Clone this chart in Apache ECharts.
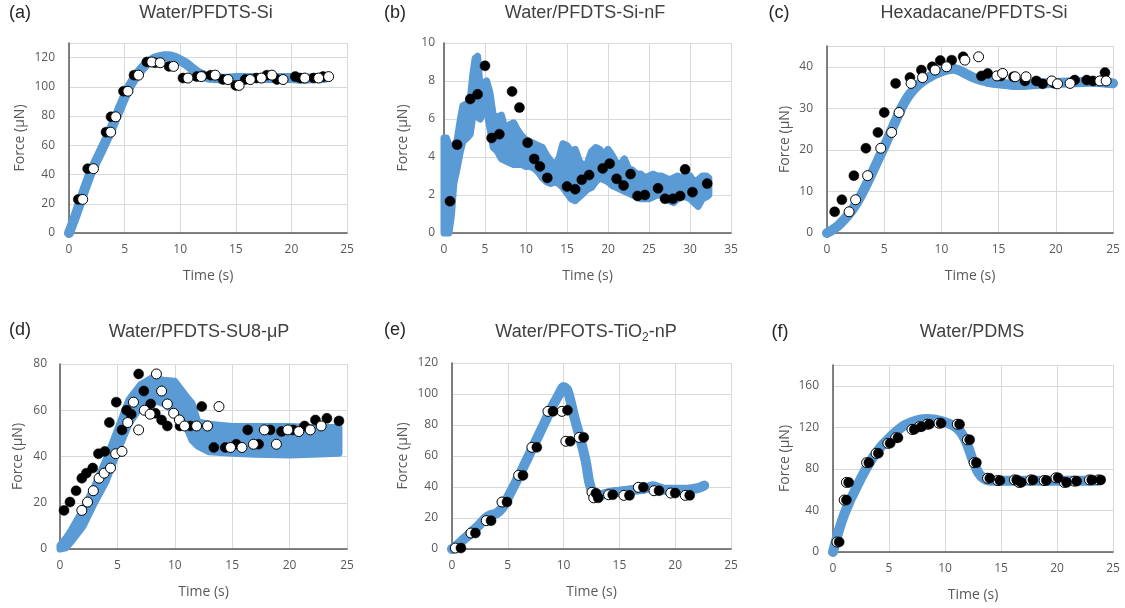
<!DOCTYPE html>
<html>
<head>
<meta charset="utf-8">
<title>Force vs time</title>
<script src="https://cdn.jsdelivr.net/npm/echarts@6/dist/echarts.min.js"></script>
<style>
html,body{margin:0;padding:0;background:#fff;}
#main{width:1125px;height:608px;}
</style>
</head>
<body>
<div id="main"></div>
<script>
// (a) Water/PFDTS-Si
var aLineT = [0,0.5,1,1.5,2,2.5,3,3.5,4,4.5,5,5.5,6,6.5,7,7.5,8,8.5,9,9.5,10,10.5,11,11.5,12,12.5,13,14,15,16,17,18,19,20,21,22,23];
var aLineF = [0,10,21,32,42,50,58,66,75,84,93,101,107,112,116,118.5,120,121,121,120,118,116,113,110,108,106.5,106,105.5,106,106,106,106,106,106,105.5,106,106];
var aBlackT = [0.84,1.68,3.33,3.78,4.9,5.85,7.0,7.75,9.0,10.25,11.5,12.0,12.75,13.85,15.0,15.85,16.85,17.8,18.7,20.35,20.8,22.0,22.85];
var aBlackF = [23,44,69,79.5,97,108,117,116.5,114,106,107,107.5,108,105,101,105,106,108,105,107,106,106,107];
var aOpenT = [1.23,2.2,3.75,4.2,5.3,6.25,7.45,8.2,9.4,10.7,11.9,13.15,14.3,15.3,16.3,17.3,18.25,19.25,21.2,22.45,23.35];
var aOpenF = [23,44,69,79.5,97,108,117,116.5,114,106,107,108,105,101,105,106,108,105,106,106,107];

// (b) Water/PFDTS-Si-nF  (noisy trace drawn as a band)
var bBandT = [0,0.3,0.6,0.9,1.2,1.6,2,2.3,2.8,3.2,3.5,3.8,4.1,4.4,4.8,5.2,5.6,6,6.5,7,7.5,8,8.5,9,9.5,10,10.5,11,11.5,12,12.5,13,13.5,14,14.5,15,15.5,16,16.5,17,17.5,18,18.5,19,19.5,20,20.5,21,21.5,22,22.5,23,23.5,24,24.5,25,25.5,26,26.5,27,27.5,28,28.5,29,29.5,30,30.5,31,31.5,32,32.3];
var bBandLo = [0,0,0,0.9,2.6,3.4,4.3,4.8,5.0,5.2,6.1,6.2,6.1,6.0,6.4,6.5,5.5,4.5,4.3,3.9,3.8,3.7,3.6,3.6,3.6,3.5,3.5,3.4,3.2,2.9,2.7,2.6,2.7,2.6,2.4,2.1,1.8,1.7,1.9,2.1,2.3,2.4,2.7,2.9,2.8,2.7,2.5,2.4,2.3,2.2,2.1,2.0,1.9,1.8,1.8,1.8,1.9,2.0,2.0,1.8,1.7,1.6,1.8,1.9,1.9,1.8,1.6,1.4,1.8,1.9,2.0];
var bBandHi = [5.0,5.0,4.6,4.3,4.6,4.9,6.0,6.7,6.8,7.0,8.3,9.2,9.3,7.7,7.9,8.0,7.4,6.2,6.1,6.2,5.4,5.7,5.8,5.4,5.1,4.9,4.8,4.7,4.6,4.5,4.1,3.8,3.6,3.9,4.7,4.6,4.3,4.4,3.8,3.5,3.7,4.3,4.5,4.4,4.1,4.4,4.1,3.7,3.6,3.9,3.4,3.3,3.1,3.1,2.9,3.0,3.1,3.0,3.0,2.9,2.8,2.9,3.0,2.9,3.1,3.0,2.7,2.8,3.0,3.0,2.9];
var bDotT = [0.73,1.6,3.2,4.1,5.0,5.8,6.75,8.3,9.2,10.2,11.0,11.7,12.6,15.0,16.0,16.8,17.7,19.35,20.2,21.05,21.9,22.75,23.6,24.5,26.1,26.95,27.9,28.8,29.4,30.3,32.1];
var bDotF = [1.67,4.65,7.05,7.3,8.8,5.0,5.2,7.45,6.6,4.75,3.9,3.5,2.9,2.45,2.3,2.8,3.05,3.4,3.65,2.85,2.5,3.1,1.95,2.0,2.35,1.8,1.8,1.95,3.35,2.15,2.6];

// (c) Hexadacane/PFDTS-Si
var cLineT = [0,0.5,1,1.5,2,2.5,3,3.5,4,4.5,5,5.5,6,6.5,7,7.5,8,8.5,9,9.5,10,10.5,11,11.5,12,12.5,13,13.5,14,15,16,17,18,19,20,21,22,23,24,25];
var cLineF = [0,0.8,1.8,3.2,4.8,6.8,9.2,11.9,14.8,17.8,20.7,23.9,27,30,32.5,34.3,35.7,36.8,37.6,38.3,38.9,39.3,39.5,39.2,38.5,37.8,37.2,36.8,36.4,36,35.7,35.6,35.8,36,36.1,36.2,36.3,36.4,36.3,36];
var cBlackT = [0.67,1.3,2.35,3.4,4.45,5.0,6.0,7.25,8.25,9.2,9.9,10.9,11.9,13.5,14.05,15.2,16.3,17.3,18.3,18.85,19.9,21.65,22.7,23.25,24.3];
var cBlackF = [5.1,8,13.8,20.4,24.2,29,36,37.4,39.2,40,41.5,41.6,42.4,37.8,38.4,37.8,37.6,36.6,36.6,35.9,36,36.8,36.8,36.6,38.6];
var cOpenT = [1.93,2.5,3.55,4.7,5.65,6.3,7.35,8.35,9.45,10.45,12.05,13.25,14.85,15.35,16.45,17.4,19.65,20.15,21.25,23.85,24.4];
var cOpenF = [5.1,8,13.8,20.4,24.2,29,36,37.4,39.2,40,41.6,42.4,37.8,38.4,37.6,37.6,36.6,35.9,36,36.6,36.6];

// (d) Water/PFDTS-SU8-uP  (wide scatter drawn as a band)
var dBandT = [0,0.5,1,2,3,4,5,6,7,8,9,10,11,11.5,12,13,15,17,20,22,24.3];
var dBandLo = [0,0.5,3.3,9.8,19.9,29,42,54,61.5,64.5,63,59.5,53,47,44.5,42,41.4,41,40.7,41,41.4];
var dBandHi = [1.5,4.5,8.3,17,27,38.5,51.5,64.5,71,74,73,72.5,66,63,55,54,53,53,53,52.5,52.5];
var dBlackT = [0.35,0.87,1.4,1.9,2.3,2.85,3.35,3.9,4.3,4.9,5.4,5.8,6.2,6.85,7.3,7.9,8.3,8.85,9.35,10.45,11.35,12.35,13.4,14.4,15.35,16.35,17.3,18.3,19.3,20.3,21.3,22.25,23.25,24.3];
var dBlackF = [16.7,20.3,25.2,30.6,32.8,35,41.2,42.2,54.7,63.5,51.5,60,58.3,75.7,68.3,62.7,58.7,55.8,53.2,53.2,53.2,61.6,43.9,43.9,45.3,51.5,45.3,51.5,50.8,51.5,53.2,55.8,56.5,55.4];
var dOpenT = [1.9,2.4,2.9,3.4,3.85,4.4,4.85,5.4,5.9,6.4,6.85,7.35,7.85,8.4,8.85,9.35,9.9,10.4,10.85,11.9,12.85,13.85,14.85,15.85,16.85,17.8,18.85,19.85,20.8,21.8,22.75];
var dOpenF = [16.7,20.3,25.2,30.6,32.8,35,41.2,42.2,54.7,63.5,51.5,60,58.3,75.7,68.3,62.7,58.7,55.8,53.2,53.2,53.2,61.6,43.9,43.9,45.3,51.5,45.3,51.5,50.8,51.5,53.2];

// (e) Water/PFOTS-TiO2-nP
var eLineT = [0,0.5,1,1.5,2,2.5,3,3.5,4,4.5,5,5.5,6,6.5,7,7.5,8,8.5,9,9.5,10,10.3,10.6,11,11.5,12,12.3,12.6,13,13.5,14,15,16,17,17.5,18,18.5,19,20,21,22,22.6];
var eLineF = [0,2.5,6,9,12.5,16,20,22,23,26.5,33,40,47,54.5,62,69.5,77,84.5,92,98.5,104.5,103,96,84,71,56,43,37,34,35,36,37,38,38.7,39.5,40.5,39.4,38.3,38.3,38.3,39.2,41];
var eOpenT = [0.3,1.7,3.07,4.48,5.97,7.16,8.6,9.85,10.2,11.4,12.54,12.7,14.03,15.4,16.7,18.1,19.6,20.9];
var eOpenF = [0.6,10.3,18.3,30.3,47.5,65.6,88.8,88.8,69.5,72,36.6,33,35,34.6,39.8,37.6,36.1,34.6];
var eBlackT = [0.8,2.1,3.5,4.93,6.36,7.6,9.05,10.35,10.6,11.8,12.9,13.1,14.4,15.9,17.15,18.55,20.0,21.3];
var eBlackF = [0.6,10.3,18.3,30.3,47.5,65.6,88.8,89.5,69.5,72,36,33,35,34.6,39.8,37.6,36.1,34.6];

// (f) Water/PDMS
var fLineT = [0,0.25,0.5,1,1.5,2,2.5,3,3.5,4,4.5,5,5.5,6,6.5,7,7.5,8,8.5,9,9.5,10,10.5,11,11.5,12,12.5,13,13.5,14,15,16,17,18,19,20,21,22,23,23.5];
var fLineF = [0,10,20,36,49,60,71,81,90,97.5,104,109.5,114.5,119,122.5,125,126.8,127.8,128,127.5,126.5,125,123,120,114,103,88,76,70.5,68.8,68.5,68.5,68.5,68.5,68.5,68.5,68.5,68.5,68.5,68.5];
var fOpenT = [0.35,1.0,1.2,3.0,3.85,4.9,5.6,7.05,7.7,8.4,9.45,11.1,12.0,12.6,13.8,14.7,16.2,16.6,17.65,18.85,19.9,20.65,21.55,22.9,23.7];
var fBlackT = [0.55,1.2,1.4,3.2,4.05,5.1,5.8,7.25,7.9,8.6,9.65,11.3,12.2,12.8,14.0,14.9,16.4,16.8,17.85,19.05,20.1,20.85,21.75,23.1,23.9];
var fDotF = [9.6,50,67,86,95,104.6,110,118,120.6,123,124,123,108,86,71,68.8,69.4,67,69.4,68.8,71.4,67,68.2,69.4,69.4];

var BLUE = '#5B9BD5';
var GRAY = '#595959';
var FONT = 'Open Sans';

function pairs(t, f){
    var out = [];
    for (var i = 0; i < t.length; i++) out.push([t[i], f[i]]);
    return out;
}

// layout of the six panels
var panels = [
    {tag:'(a)', title:'Water/PFDTS-Si', tx:206, ty:13, lx:20, ly:13,
     grid:{left:69, top:43, width:278, height:190}, xMax:25, yMax:130, yStep:20, yMargin:14, yGap:42},
    {tag:'(b)', title:'Water/PFDTS-Si-nF', tx:585, ty:13, lx:395, ly:13,
     grid:{left:444, top:43, width:287, height:190}, xMax:35, yMax:10, yStep:2, yMargin:9, yGap:34},
    {tag:'(c)', title:'Hexadacane/PFDTS-Si', tx:974, ty:13, lx:779, ly:13,
     grid:{left:827, top:46, width:286, height:187}, xMax:25, yMax:45, yStep:10, yMargin:14, yGap:35},
    {tag:'(d)', title:'Water/PFDTS-SU8-\u03bcP', tx:199, ty:332, lx:20, ly:330,
     grid:{left:60, top:364, width:287, height:185}, xMax:25, yMax:80, yStep:20, yMargin:13, yGap:35},
    {tag:'(e)', title:'{n|Water/PFOTS-TiO}{s|2}{n|-nP}', tx:586, ty:332, lx:395, ly:330,
     grid:{left:452, top:363, width:279, height:186}, xMax:25, yMax:120, yStep:20, yMargin:14, yGap:42},
    {tag:'(f)', title:'Water/PDMS', tx:972, ty:332, lx:780, ly:332,
     grid:{left:833, top:365, width:280, height:187}, xMax:25, yMax:180, yStep:40, yMargin:14, yGap:41}
];

function lineSeries(i, t, f){
    return {type:'line', xAxisIndex:i, yAxisIndex:i, data:pairs(t, f), symbol:'none',
        smooth:0.25, lineStyle:{color:BLUE, width:10, cap:'round', join:'round', opacity:1}, z:2, silent:true};
}
function bandSeries(i, t, lo, hi){
    return {type:'custom', xAxisIndex:i, yAxisIndex:i, data:[[0, 0]], z:2, silent:true,
        renderItem:function(params, api){
            var pts = [];
            for (var k = 0; k < t.length; k++) pts.push(api.coord([t[k], hi[k]]));
            for (var k = t.length - 1; k >= 0; k--) pts.push(api.coord([t[k], lo[k]]));
            return {type:'polygon', shape:{points:pts},
                style:{fill:BLUE, stroke:BLUE, lineWidth:7, lineJoin:'round'}};
        }};
}
function blackDots(i, t, f, z){
    return {type:'scatter', xAxisIndex:i, yAxisIndex:i, data:pairs(t, f), symbol:'circle', symbolSize:10,
        itemStyle:{color:'#000', borderColor:'#000', borderWidth:0.5, opacity:1}, z:z, silent:true};
}
function openDots(i, t, f, z){
    return {type:'scatter', xAxisIndex:i, yAxisIndex:i, data:pairs(t, f), symbol:'circle', symbolSize:10,
        itemStyle:{color:'#fff', borderColor:'#000', borderWidth:1, opacity:1}, z:z, silent:true};
}

var series = [
    lineSeries(0, aLineT, aLineF), blackDots(0, aBlackT, aBlackF, 3), openDots(0, aOpenT, aOpenF, 4),
    bandSeries(1, bBandT, bBandLo, bBandHi), blackDots(1, bDotT, bDotF, 3),
    lineSeries(2, cLineT, cLineF), blackDots(2, cBlackT, cBlackF, 3), openDots(2, cOpenT, cOpenF, 4),
    bandSeries(3, dBandT, dBandLo, dBandHi), blackDots(3, dBlackT, dBlackF, 3), openDots(3, dOpenT, dOpenF, 4),
    lineSeries(4, eLineT, eLineF), openDots(4, eOpenT, eOpenF, 3), blackDots(4, eBlackT, eBlackF, 4),
    lineSeries(5, fLineT, fLineF), openDots(5, fOpenT, fDotF, 3), blackDots(5, fBlackT, fDotF, 4)
];

var grids = [], xAxes = [], yAxes = [], graphics = [];
panels.forEach(function(p, i){
    grids.push(p.grid);
    var step = p.yStep;
    xAxes.push({gridIndex:i, type:'value', min:0, max:p.xMax, interval:5,
        name:'Time (s)', nameLocation:'middle', nameGap:36,
        nameTextStyle:{color:GRAY, fontSize:14, fontFamily:FONT},
        axisLine:{show:true, lineStyle:{color:'#D9D9D9'}}, axisTick:{show:false},
        axisLabel:{color:GRAY, fontSize:12, fontFamily:FONT, margin:11},
        splitLine:{show:true, lineStyle:{color:'#D9D9D9'}}});
    yAxes.push({gridIndex:i, type:'value', min:0, max:p.yMax, interval:step,
        name:'Force (\u03bcN)', nameLocation:'middle', nameGap:p.yGap,
        nameTextStyle:{color:GRAY, fontSize:14, fontFamily:FONT},
        axisLine:{show:true, lineStyle:{color:'#D9D9D9'}}, axisTick:{show:false},
        axisLabel:{color:GRAY, fontSize:12, fontFamily:FONT, margin:p.yMargin,
            formatter:function(v){ return (Math.abs(v / step - Math.round(v / step)) < 1e-6) ? String(v) : ''; }},
        splitLine:{show:true, lineStyle:{color:'#D9D9D9'}}});
    graphics.push({type:'text', x:p.tx, y:p.ty, z:10,
        style:{text:p.title, fill:'#404040', font:'18px "Liberation Sans"', align:'center', verticalAlign:'middle',
            rich:{n:{fontSize:18, fontFamily:'Liberation Sans', fill:'#404040', lineHeight:24},
                  s:{fontSize:12, fontFamily:'Liberation Sans', fill:'#404040', lineHeight:12, verticalAlign:'bottom'}}}});
    graphics.push({type:'text', x:p.lx, y:p.ly, z:10,
        style:{text:p.tag, fill:'#262626', font:'18px "Liberation Sans"', align:'center', verticalAlign:'middle'}});
});
// dark top / right frame lines, drawn as extra axes
panels.forEach(function(p, i){
    xAxes.push({gridIndex:i, type:'value', position:'top', min:0, max:p.xMax,
        axisLine:{show:true, lineStyle:{color:'#595959', width:1.5}}, axisTick:{show:false},
        axisLabel:{show:false}, splitLine:{show:false}});
    yAxes.push({gridIndex:i, type:'value', position:'right', min:0, max:p.yMax,
        axisLine:{show:true, lineStyle:{color:'#595959', width:1.5}}, axisTick:{show:false},
        axisLabel:{show:false}, splitLine:{show:false}});
});

var myChart = echarts.init(document.getElementById('main'));
myChart.setOption({
    backgroundColor:'#fff',
    animation:false,
    grid:grids,
    xAxis:xAxes,
    yAxis:yAxes,
    graphic:graphics,
    series:series
});
</script>
</body>
</html>
